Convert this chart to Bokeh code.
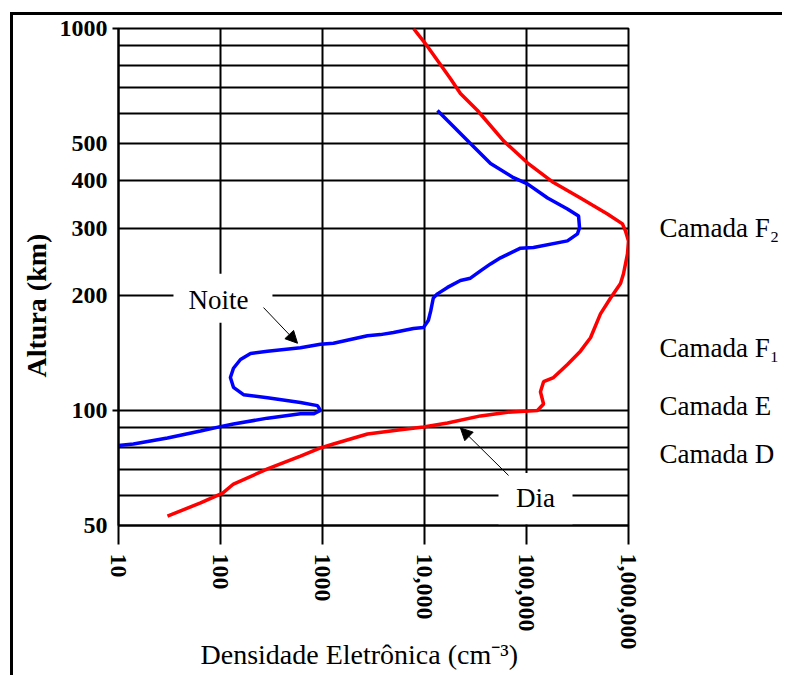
import math
from bokeh.plotting import figure
from bokeh.models import (Range1d, FixedTicker, Label, Arrow, NormalHead, LogAxis, Title,
                          BoxAnnotation)
from bokeh.embed import file_html
from bokeh.resources import INLINE

# ---- data (electron density in cm^-3, altitude in km) ----
dia_density = [7800, 10200, 18000, 22500, 33100, 59600, 102000, 184000, 338000, 622000,
               873000, 934000, 1000000, 977000, 893000, 835000, 667000, 531000, 424000, 338000,
               252000, 184000, 147000, 137000, 147000, 128000, 65200, 35400, 16800, 9770,
               5820, 2760, 1280, 955, 608, 289, 134, 105, 63.7, 30.2]
dia_altitude = [1000, 913, 739, 676, 610, 508, 445, 395, 360, 327,
                308, 295, 278, 257, 228, 215, 197, 179, 155, 143,
                132, 122, 119, 112, 104, 100, 99, 96.8, 92.7, 90.5,
                89, 86.8, 81.7, 79.8, 76, 70.3, 64.2, 60.8, 57.3, 52.9]

noite_density = [13400, 16800, 28200, 44400, 74600, 102000, 161000, 252000, 324000, 331000,
                 316000, 252000, 117000, 87400, 55600, 44400, 35400, 28200, 22500, 16800,
                 13400, 12200, 11500, 10900, 9770, 7800, 4970, 3700, 2760, 1280,
                 955, 608, 289, 197, 157, 134, 125, 134, 168, 289,
                 608, 893, 955, 816, 608, 289, 134, 105, 63.7, 30.2, 14, 10]
noite_altitude = [610, 574, 500, 443, 407, 392, 360, 337, 323, 301,
                  290, 278, 267, 266, 251, 242, 232, 222, 219, 210,
                  202, 197, 182, 172, 165, 164, 160, 158, 157, 150,
                  149, 146, 143, 141, 136, 129, 122, 115, 110, 108,
                  105, 103, 100, 98, 98, 95.5, 92.2, 91, 88.4, 84.7, 81.7, 81]

x_ticks = [10, 100, 1000, 10000, 100000, 1000000]
x_tick_labels = ["10", "100", "1000", "10,000", "100,000", "1,000,000"]
y_ticks = [50, 100, 200, 300, 400, 500, 1000]
y_tick_marks = [100, 1000]
y_grid_values = [50, 60, 70, 80, 90, 100, 200, 300, 400, 500, 600, 700, 800, 900, 1000]

layer_names = ["Camada F\u2082", "Camada F\u2081", "Camada E", "Camada D"]
layer_altitude = [300, 146, 103, 77]

SERIF = "Liberation Serif"

p = figure(frame_width=510, frame_height=497, x_axis_type="log", y_axis_type="log",
           x_range=Range1d(10, 1e6), y_range=Range1d(50, 1000),
           output_backend="svg", toolbar_location=None,
           min_border_left=105, min_border_top=13, min_border_right=150, min_border_bottom=150)
p.margin = (12, 0, 0, 10)
p.styles = {"border-top": "3px solid black", "border-left": "3px solid black"}

p.background_fill_color = "white"
p.border_fill_color = "white"
p.outline_line_color = "black"
p.outline_line_width = 2

# grids
p.xgrid.ticker = FixedTicker(ticks=x_ticks)
p.xgrid.grid_line_color = "black"
p.xgrid.grid_line_width = 2
p.ygrid.ticker = FixedTicker(ticks=y_grid_values)
p.ygrid.grid_line_color = "black"
p.ygrid.grid_line_width = 2

# x axis
xa = p.xaxis[0]
xa.ticker = FixedTicker(ticks=x_ticks)
xa.major_label_overrides = {t: lab for t, lab in zip(x_ticks, x_tick_labels)}
xa.major_label_orientation = -math.pi / 2
xa.major_label_text_font = SERIF
xa.major_label_text_font_style = "bold"
xa.major_label_text_font_size = "24px"
xa.major_label_text_color = "black"
xa.major_label_standoff = 9
xa.major_tick_out = 19
xa.major_tick_in = 0
xa.major_tick_line_width = 2
xa.major_tick_line_color = "black"
xa.minor_tick_line_color = None
xa.axis_line_color = "black"
xa.axis_line_width = 2

# y axis
ya = p.yaxis[0]
ya.ticker = FixedTicker(ticks=y_ticks, minor_ticks=y_tick_marks)
ya.major_label_overrides = {t: str(t) for t in y_ticks}
ya.major_label_text_font = SERIF
ya.major_label_text_font_style = "bold"
ya.major_label_text_font_size = "24px"
ya.major_label_text_color = "black"
ya.major_label_standoff = 5
ya.major_tick_out = 0
ya.major_tick_in = 0
ya.minor_tick_out = 6
ya.minor_tick_in = 0
ya.minor_tick_line_width = 2
ya.minor_tick_line_color = "black"
ya.axis_line_color = "black"
ya.axis_line_width = 2

# layer names on the right, as an axis of their own
ra = LogAxis(ticker=FixedTicker(ticks=layer_altitude),
             major_label_overrides={a: n for a, n in zip(layer_altitude, layer_names)},
             axis_line_color=None, major_tick_line_color=None, minor_tick_line_color=None,
             major_tick_out=0, major_tick_in=0, minor_tick_out=0, minor_tick_in=0,
             major_label_standoff=31, major_label_text_font=SERIF,
             major_label_text_font_size="27px", major_label_text_color="black")
p.add_layout(ra, "right")

# axis titles
p.add_layout(Title(text="Altura (km)", align="left", offset=148, text_font=SERIF,
                   text_font_size="28px", text_font_style="bold", text_color="black"), "left")
p.add_layout(Title(text="Densidade Eletr\u00f4nica (cm\u207b\u00b3)", align="left", offset=82,
                   standoff=-34, text_font=SERIF, text_font_size="28px",
                   text_font_style="normal", text_color="black"), "below")

# curves
p.line(noite_density, noite_altitude, line_color="#0000ff", line_width=3.5)
p.line(dia_density, dia_altitude, line_color="#ff0000", line_width=3.5)

# white boxes behind the labels (they cut the grid like the original)
p.add_layout(BoxAnnotation(left=34.6, right=323, top=228, bottom=169.6,
                           fill_color="white", fill_alpha=1, line_color=None))
p.add_layout(BoxAnnotation(left=53150, right=282500, top=68.6, bottom=50.4,
                           fill_color="white", fill_alpha=1, line_color=None))
p.add_layout(Label(x=95.5, y=195, text="Noite", text_font=SERIF, text_font_size="27px",
                   text_align="center", text_baseline="middle", text_color="black"))
p.add_layout(Label(x=122400, y=59, text="Dia", text_font=SERIF, text_font_size="27px",
                   text_align="center", text_baseline="middle", text_color="black"))

# arrows
p.add_layout(Arrow(x_start=264, y_start=186, x_end=569, y_end=150, line_width=1, line_color="black",
                   end=NormalHead(size=12, fill_color="black", line_color="black")))
p.add_layout(Arrow(x_start=66700, y_start=67.6, x_end=22500, y_end=90, line_width=1, line_color="black",
                   end=NormalHead(size=12, fill_color="black", line_color="black")))

open("out.html", "w").write(file_html(p, INLINE))
